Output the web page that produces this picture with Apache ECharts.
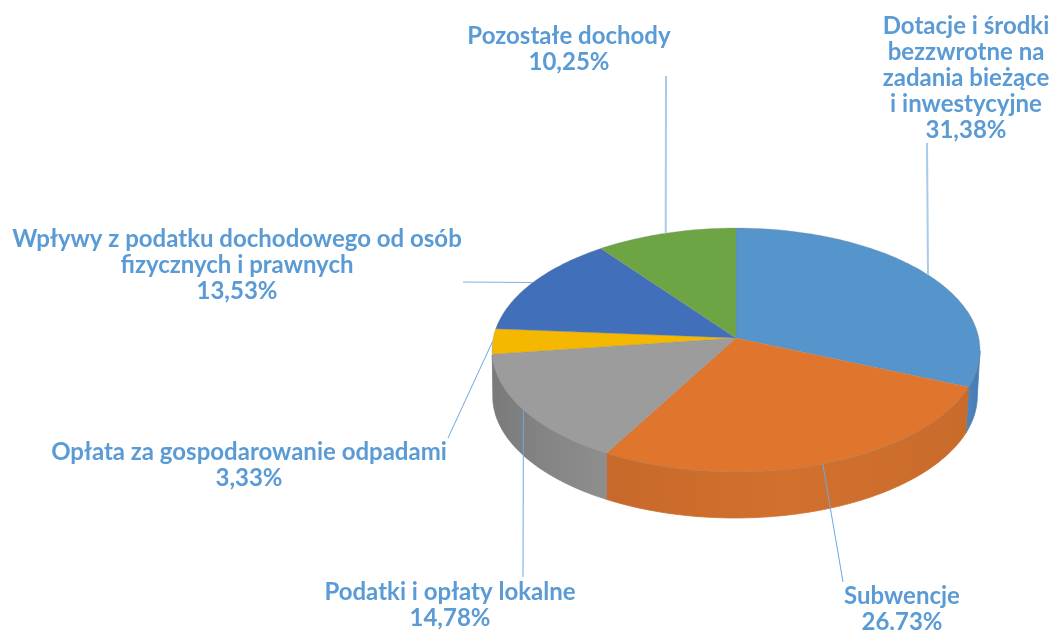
<!DOCTYPE html>
<html lang="pl">

<head>
    <meta charset="UTF-8" />
    <title>Struktura dochodów</title>
    <style>
        html,
        body {
            padding: 0;
            margin: 0;
            background: #fff;
        }

        #chart {
            width: 1054px;
            height: 630px;
        }
    </style>
</head>

<body>
    <div id="chart"></div>
    <script src="https://cdn.jsdelivr.net/npm/echarts@6/dist/echarts.min.js"></script>
    <script type="text/javascript">
        // dane
        var categories = [
            'Dotacje i środki\nbezzwrotne na\nzadania bieżące\ni inwestycyjne',
            'Subwencje',
            'Podatki i opłaty lokalne',
            'Opłata za gospodarowanie odpadami',
            'Wpływy z podatku dochodowego od osób\nfizycznych i prawnych',
            'Pozostałe dochody'
        ];
        var shares = [31.38, 26.73, 14.78, 3.33, 13.53, 10.25];

        // kolory i układ etykiet
        var topColors = ['#5694cc', '#e0762d', '#9c9c9c', '#f4b800', '#426fb9', '#6da544'];
        var wallColors = [
            ['#4f86bd', '#447bb3'],
            ['#c7692a', '#d2712e', '#c96b2b'],
            ['#7a7a7a', '#858585', '#8e8e8e'],
            ['#c79700', '#c79700'],
            ['#365c99', '#365c99'],
            ['#5a8838', '#5a8838']
        ];
        var labelCenters = [[966, 78], [902, 609], [450, 605], [249, 465], [237, 265], [569, 49]];
        var leaderEnds = [[927, 143], [843, 582], [523, 577], [448, 438], [463, 282], [666, 76]];
        var leaderColors = ['#a9cbe9', '#6ea8e0', '#6ea8e0', '#6ea8e0', '#7db0e0', '#a9cbe9'];
        var leaderWidths = [2, 1, 1, 1, 1, 2];

        // rzut perspektywiczny tarczy
        var apexX = 736, apexY = 338;
        var radiusX = 242.8, radiusY = 120.8, persp = 0.0984;
        var depth = 46, bottomScale = 0.993, bottomShift = -1;

        var total = shares.reduce(function (a, b) { return a + b; }, 0);

        function project(deg, scale, dy, dx) {
            var t = deg * Math.PI / 180;
            var u = Math.sin(t), v = -Math.cos(t);
            var w = 1 - persp * v;
            return [apexX + (dx || 0) + scale * radiusX * u / w, apexY + radiusY * v / w + dy];
        }

        function arcPoints(from, to, scale, dy, dx) {
            var pts = [];
            var n = Math.max(2, Math.ceil(to - from));
            for (var i = 0; i <= n; i++) {
                pts.push(project(from + (to - from) * i / n, scale, dy, dx));
            }
            return pts;
        }

        function renderSlice(params, api) {
            var idx = params.dataIndex;
            var before = 0;
            for (var i = 0; i < idx; i++) before += shares[i];
            var value = api.value(0);
            var start = before / total * 360;
            var end = (before + value) / total * 360;
            var mid = (start + end) / 2;
            var children = [];

            // ściana boczna tylko między punktami zwrotnymi elipsy
            var wallFrom = Math.max(start, 96), wallTo = Math.min(end, 262);
            if (wallTo > wallFrom) {
                var stops = wallColors[idx].map(function (c, k, all) {
                    return { offset: k / (all.length - 1), color: c };
                });
                var wall = arcPoints(wallFrom, wallTo, 1, 0, 0)
                    .concat(arcPoints(wallFrom, wallTo, bottomScale, depth, bottomShift).reverse());
                var wallFill = { type: 'linear', x: 0, y: 0, x2: 1, y2: 0, colorStops: stops };
                children.push({
                    type: 'polygon',
                    z2: 1,
                    shape: { points: wall },
                    style: { fill: wallFill, stroke: wallFill, lineWidth: 0.8 }
                });
            }

            var top = [[apexX, apexY]].concat(arcPoints(start, end, 1, 0, 0));
            children.push({
                type: 'polygon',
                z2: 2,
                shape: { points: top },
                style: { fill: topColors[idx], stroke: 'rgba(130,130,130,0.45)', lineWidth: 0.6 }
            });

            // linia odniesienia od środka łuku do etykiety
            children.push({
                type: 'polyline',
                z2: 3,
                shape: { points: [project(mid, 1, 0, 0), leaderEnds[idx]] },
                style: { fill: 'none', stroke: leaderColors[idx], lineWidth: leaderWidths[idx] }
            });

            children.push({
                type: 'text',
                z2: 4,
                style: {
                    text: categories[idx] + '\n' + value.toFixed(2).replace('.', ',') + '%',
                    x: labelCenters[idx][0],
                    y: labelCenters[idx][1],
                    align: 'center',
                    verticalAlign: 'middle',
                    lineHeight: 26,
                    fill: '#5b9bd5',
                    font: 'bold 24px Lato'
                }
            });

            return { type: 'group', children: children };
        }

        var chart = echarts.init(document.getElementById('chart'));
        chart.setOption({
            animation: false,
            backgroundColor: '#ffffff',
            series: [{
                type: 'custom',
                coordinateSystem: 'none',
                renderItem: renderSlice,
                data: shares.map(function (s) { return [s]; })
            }]
        });
    </script>
</body>

</html>
